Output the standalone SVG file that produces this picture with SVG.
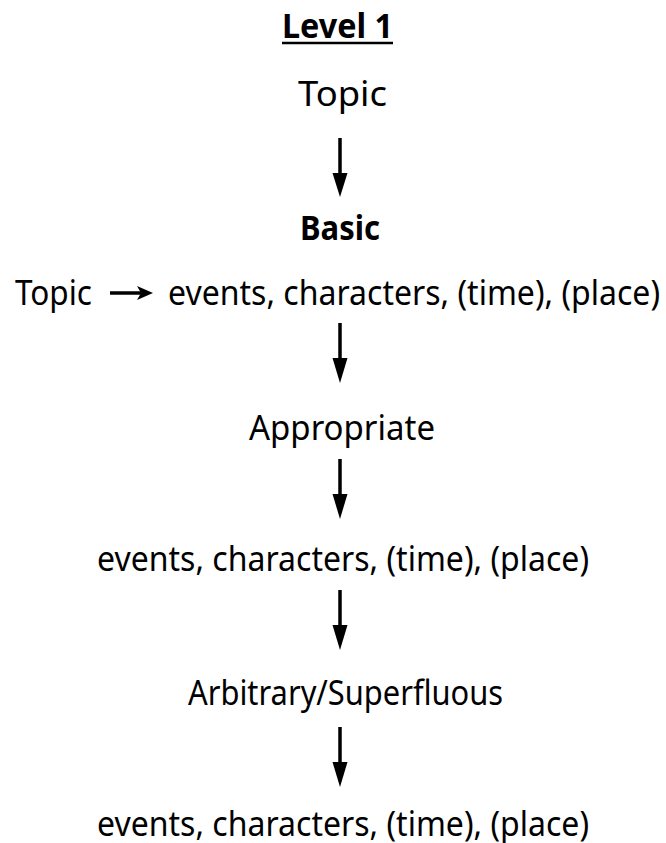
<svg xmlns="http://www.w3.org/2000/svg" width="666" height="843" viewBox="0 0 666 843">
<style>
text{font-family:"Noto Sans","Open Sans","Liberation Sans",sans-serif;font-size:34px;fill:#000}
.b{font-weight:bold}
.ln{stroke:#000;stroke-width:3.5;fill:none}
</style>
<rect width="666" height="843" fill="#fff"/>
<g id="title"><text class="b" x="282" y="38" textLength="111" lengthAdjust="spacingAndGlyphs">Level 1</text><line x1="282" y1="43" x2="393" y2="43" stroke="#000" stroke-width="2.5"/></g>
<g id="topic"><text x="298" y="106" textLength="89" lengthAdjust="spacingAndGlyphs">Topic</text></g>
<g id="basic"><text class="b" x="300" y="240" textLength="80" lengthAdjust="spacingAndGlyphs">Basic</text></g>
<g id="line2">
<text x="15" y="305" textLength="77" lengthAdjust="spacingAndGlyphs">Topic</text>
<text x="168" y="305" textLength="492" lengthAdjust="spacingAndGlyphs">events, characters, (time), (place)</text>
</g>
<g id="appropriate"><text x="249" y="440" textLength="186" lengthAdjust="spacingAndGlyphs">Appropriate</text></g>
<g id="events1"><text x="97" y="571" textLength="492" lengthAdjust="spacingAndGlyphs">events, characters, (time), (place)</text></g>
<g id="arbitrary"><text x="188" y="705" textLength="315" lengthAdjust="spacingAndGlyphs">Arbitrary/Superfluous</text></g>
<g id="events2"><text x="97" y="836" textLength="492" lengthAdjust="spacingAndGlyphs">events, characters, (time), (place)</text></g>
<g id="connectors">
<path class="ln" d="M340 138V176"/><path d="M332.5 173L340 197L347.5 173Z"/>
<path class="ln" d="M340 323V360"/><path d="M332.5 358L340 383L347.5 358Z"/>
<path class="ln" d="M340 459V496"/><path d="M332.5 494L340 519L347.5 494Z"/>
<path class="ln" d="M340 590V627"/><path d="M332.5 625L340 650L347.5 625Z"/>
<path class="ln" d="M340 727V764"/><path d="M332.5 762L340 787L347.5 762Z"/>
<path class="ln" stroke-width="2.5" d="M110 293H142"/><path d="M137 286L153 293L137 300L141 293Z"/>
</g>
</svg>
